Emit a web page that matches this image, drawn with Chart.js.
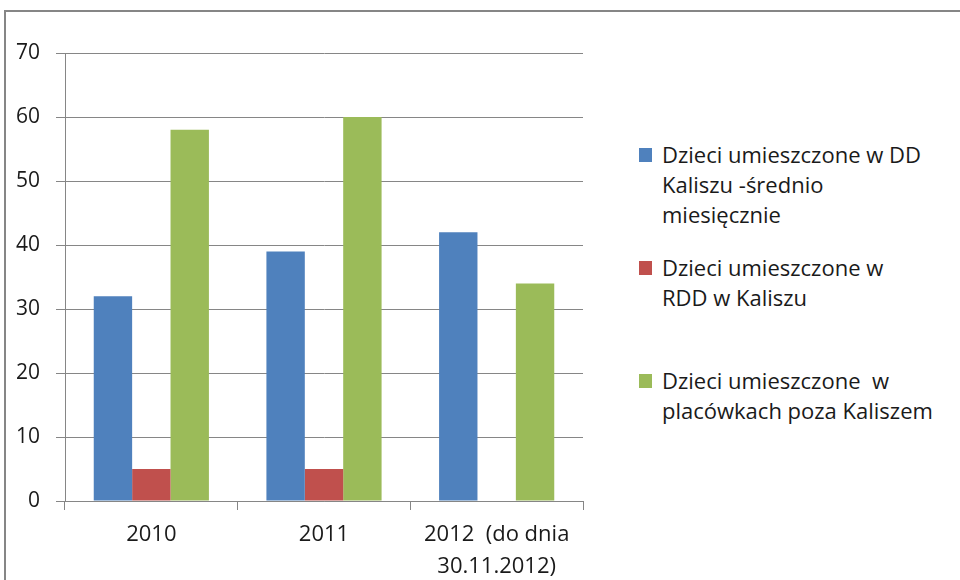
<!DOCTYPE html>
<html>
<head>
<meta charset="utf-8">
<script src="https://cdn.jsdelivr.net/npm/chart.js@4"></script>
<style>
  html, body { margin: 0; padding: 0; background: #fff; overflow: hidden; }
  body { width: 960px; height: 580px; position: relative; font-family: "Open Sans", sans-serif; }
  #frame { position: absolute; left: 4px; top: 10px; width: 1000px; height: 600px; border: 2px solid #868686; box-sizing: border-box; }
  #wrap { position: absolute; left: 0; top: 0; width: 600px; height: 580px; }
  #legend { position: absolute; left: 639px; top: 139px; margin: 0; padding: 0; list-style: none; color: #1a1a1a; font-size: 22px; line-height: 30px; white-space: pre; }
  #legend li { position: relative; padding-left: 23px; }
  #legend li span.box { position: absolute; left: 0; top: 9px; width: 13px; height: 14px; }
</style>
</head>
<body>
<div id="frame"></div>
<div id="wrap"><canvas id="chart"></canvas></div>
<ul id="legend"></ul>
<script>
const categories = [['2010'], ['2011'], ['2012  (do dnia', '30.11.2012)']];
const seriesNames = [
    ['Dzieci umieszczone w DD', 'Kaliszu -średnio', 'miesięcznie'],
    ['Dzieci umieszczone w', 'RDD w Kaliszu'],
    ['Dzieci umieszczone  w', 'placówkach poza Kaliszem']
];
const ddKalisz = [32, 39, 42];
const rddKalisz = [5, 5, null];
const pozaKaliszem = [58, 60, 34];
const yTicks = [0, 10, 20, 30, 40, 50, 60, 70];
const colors = ['#4F81BD', '#C0504D', '#9BBB59'];
const legendGaps = [0, 23, 53]; // extra space above each legend entry

const seriesValues = [ddKalisz, rddKalisz, pozaKaliszem];
const gridColor = '#868686';
const tickFont = { family: 'Open Sans', size: 22, lineHeight: 1.45 };

const ctx = document.getElementById('chart').getContext('2d');
const chart = new Chart(ctx, {
    type: 'bar',
    data: {
        labels: categories,
        datasets: seriesValues.map((data, i) => ({
            label: seriesNames[i].join(' '),
            data,
            backgroundColor: colors[i],
            borderWidth: 0,
            barPercentage: 1,
            categoryPercentage: 0.667
        }))
    },
    options: {
        responsive: true,
        maintainAspectRatio: false,
        animation: false,
        layout: { padding: { top: 53, left: 0, right: 17, bottom: 0 } },
        plugins: {
            legend: { display: false },
            tooltip: { enabled: false }
        },
        scales: {
            x: {
                grid: { offset: true, drawOnChartArea: false, color: gridColor, tickLength: 9 },
                border: { color: gridColor, width: 1 },
                ticks: {
                    color: '#1a1a1a',
                    font: tickFont,
                    padding: 9,
                    maxRotation: 0,
                    autoSkip: false
                },
                afterFit: (scale) => { scale.height = 79; }
            },
            y: {
                min: 0,
                max: 70,
                afterBuildTicks: (scale) => { scale.ticks = yTicks.map(v => ({ value: v })); },
                grid: { color: gridColor, tickLength: 9 },
                border: { color: gridColor, width: 1 },
                ticks: {
                    color: '#1a1a1a',
                    font: { family: 'Open Sans', size: 21 },
                    padding: 16
                },
                afterFit: (scale) => { scale.width = 65; }
            }
        }
    }
});

// legend made from the same series names and colours
const legend = document.getElementById('legend');
seriesNames.forEach((lines, i) => {
    const li = document.createElement('li');
    li.style.marginTop = legendGaps[i] + 'px';
    const box = document.createElement('span');
    box.className = 'box';
    box.style.background = colors[i];
    li.appendChild(box);
    lines.forEach((line, j) => {
        if (j > 0) li.appendChild(document.createElement('br'));
        li.appendChild(document.createTextNode(line));
    });
    legend.appendChild(li);
});
</script>
</body>
</html>
